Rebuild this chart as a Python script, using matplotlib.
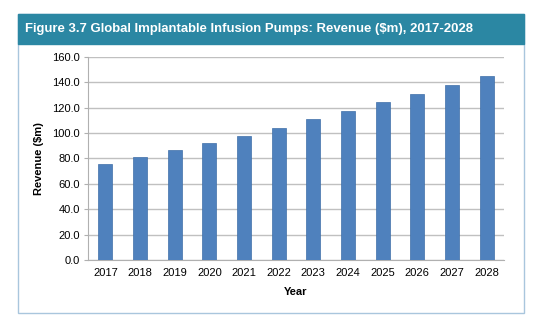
import matplotlib.pyplot as plt
from matplotlib.patches import Rectangle

# data
years = ['2017', '2018', '2019', '2020', '2021', '2022',
         '2023', '2024', '2025', '2026', '2027', '2028']
revenue = [75.8, 81.1, 86.6, 92.2, 98.1, 104.4,
           111.0, 117.6, 124.4, 131.2, 138.1, 144.9]
yticks = [0, 20, 40, 60, 80, 100, 120, 140, 160]

plt.rcParams['font.family'] = ['Liberation Sans', 'DejaVu Sans']

fig = plt.figure(figsize=(5.5, 3.31), dpi=100)
fig.patch.set_facecolor('white')

# outer frame and header band
fig.patches.append(Rectangle((0.033, 0.054), 0.92, 0.903, transform=fig.transFigure,
                             facecolor='white', edgecolor='#a9c6dd', linewidth=1.0, zorder=-2))
fig.patches.append(Rectangle((0.033, 0.867), 0.92, 0.09, transform=fig.transFigure,
                             facecolor='#2b87a3', edgecolor='#2b87a3', linewidth=1.0, zorder=-1))
fig.text(0.045, 0.912, 'Figure 3.7 Global Implantable Infusion Pumps: Revenue ($m), 2017-2028',
         color='white', fontsize=9.45, fontweight='bold', va='center', ha='left')

ax = fig.add_axes([0.16, 0.2145, 0.7564, 0.6133])
ax.set_zorder(2)
ax.patch.set_alpha(0)
ax.bar(years, revenue, width=0.4, color='#4f81bd', edgecolor='#3f6fa8', linewidth=0.5, zorder=3)

ax.set_ylim(0, 160)
ax.set_xlim(-0.5, len(years) - 0.5)
ax.set_yticks(yticks)
ax.set_yticklabels([f'{v:.1f}' for v in yticks])
ax.grid(axis='y', color='#c0c0c0', linewidth=1.0, zorder=0)
ax.set_axisbelow(True)

for s in ['top', 'right']:
    ax.spines[s].set_visible(False)
ax.spines['left'].set_color('#b0b0b0')
ax.spines['bottom'].set_color('#b0b0b0')
ax.tick_params(axis='y', length=3, color='#b0b0b0', labelsize=8, pad=3)
ax.tick_params(axis='x', length=0, labelsize=8, pad=6)

ax.set_xlabel('Year', fontsize=8, fontweight='bold', labelpad=6)
ax.set_ylabel('Revenue ($m)', fontsize=8, fontweight='bold', labelpad=6)

fig.savefig('out.png', dpi=100)
